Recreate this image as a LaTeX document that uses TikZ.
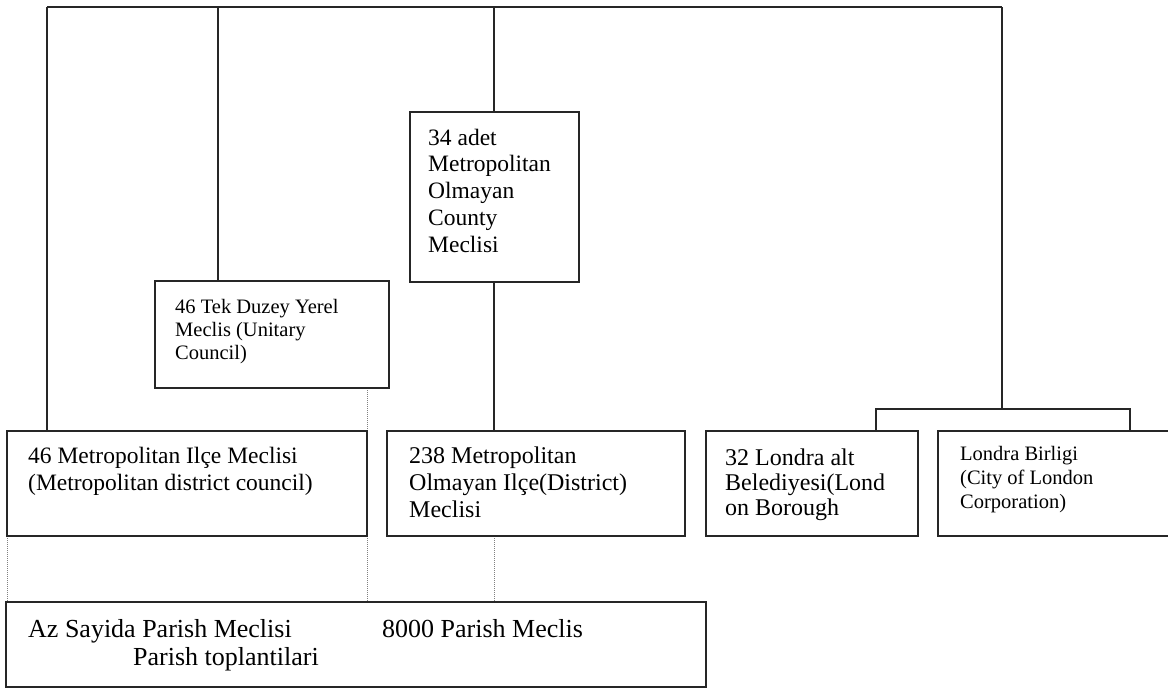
\documentclass[tikz,border=0pt]{standalone}
\usepackage{fontspec}
\setmainfont{Liberation Serif}
% multi-line block of text whose baseline is that of its first line
\newcommand\blocktext[3]{\parbox[t]{340pt}{\raggedright\fontsize{#1}{#2}\selectfont #3}}
\begin{document}
\begin{tikzpicture}[x=1pt,y=-1pt,
  box/.style={draw=black!85, line width=1.4pt, inner sep=0pt, outer sep=0pt, anchor=north west},
  link/.style={draw=black!85, line width=1.4pt},
  dotlink/.style={draw=black!50, line width=0.9pt, dash pattern=on 1pt off 1pt},
  txt/.style={anchor=base west, inner sep=0pt},
  parishtxt/.style={txt, font=\fontsize{26}{30}\selectfont}]
\useasboundingbox (0,0) rectangle (1168,689);
\clip (0,0) rectangle (1168,689);

% top distribution bar
\coordinate (t1) at (47,7);
\coordinate (t2) at (218,7);
\coordinate (t3) at (494,7);
\coordinate (t4) at (1002,7);
\coordinate (b0) at (1002,409);
\coordinate (bl) at (876,409);
\coordinate (br) at (1130,409);

% dotted links to the parish level (drawn first, under the boxes)
\draw[dotlink] (7,536) coordinate (d1) -- (7,602) coordinate (d1e);
\draw[dotlink] (367,388) coordinate (d2) -- (367,602) coordinate (d2e);
\draw[dotlink] (494,536) coordinate (d3) -- (494,602) coordinate (d3e);

% boxes
\node[box, minimum width=169pt, minimum height=170pt] (county)   at (410,112) {};
\node[box, minimum width=234pt, minimum height=107pt] (unitary)  at (155,281) {};
\node[box, minimum width=360pt, minimum height=105pt] (metdist)  at (7,431) {};
\node[box, minimum width=298pt, minimum height=105pt] (nonmet)   at (387,431) {};
\node[box, minimum width=212pt, minimum height=105pt] (borough)  at (706,431) {};
\node[box, minimum width=240pt, minimum height=105pt] (city)     at (938,431) {};
\node[box, minimum width=700pt, minimum height=85pt]  (parish)   at (6,602) {};

% solid connectors
\draw[link] (t1) -- (t4);
\draw[link] (t1) -- (t1 |- metdist.north);
\draw[link] (t2) -- (t2 |- unitary.north);
\draw[link] (t3) -- (t3 |- county.north);
\draw[link] (t3 |- county.south) -- (t3 |- nonmet.north);
\draw[link] (t4) -- (b0);
\draw[link] (bl |- borough.north) -- (bl) -- (br) -- (br |- city.north);

% texts
\node[txt] (countyT) at (428,145)
  {\blocktext{23.5}{26.8}{34 adet\\Metropolitan\\Olmayan\\County\\Meclisi}};
\node[txt] (unitaryT) at (175,313)
  {\blocktext{20.5}{23}{46 Tek Duzey Yerel\\Meclis (Unitary\\Council)}};
\node[txt] (metdistT) at (28,463)
  {\blocktext{23.5}{27}{46 Metropolitan Ilçe Meclisi\\(Metropolitan district council)}};
\node[txt] (nonmetT) at (409,463)
  {\blocktext{24}{27}{238 Metropolitan\\Olmayan Ilçe(District)\\Meclisi}};
\node[txt] (boroughT) at (725,465)
  {\blocktext{24}{25}{32 Londra alt\\Belediyesi(Lond\\on Borough}};
\node[txt] (cityT) at (960,460)
  {\blocktext{20.5}{24}{Londra Birligi\\(City of London\\Corporation)}};
\node[parishtxt] (parishA) at (28,637) {Az Sayida Parish Meclisi};
\node[parishtxt] (parishB) at (133,665) {Parish toplantilari};
\node[parishtxt] (parishC) at (382,637) {8000 Parish Meclis};
\end{tikzpicture}
\end{document}
